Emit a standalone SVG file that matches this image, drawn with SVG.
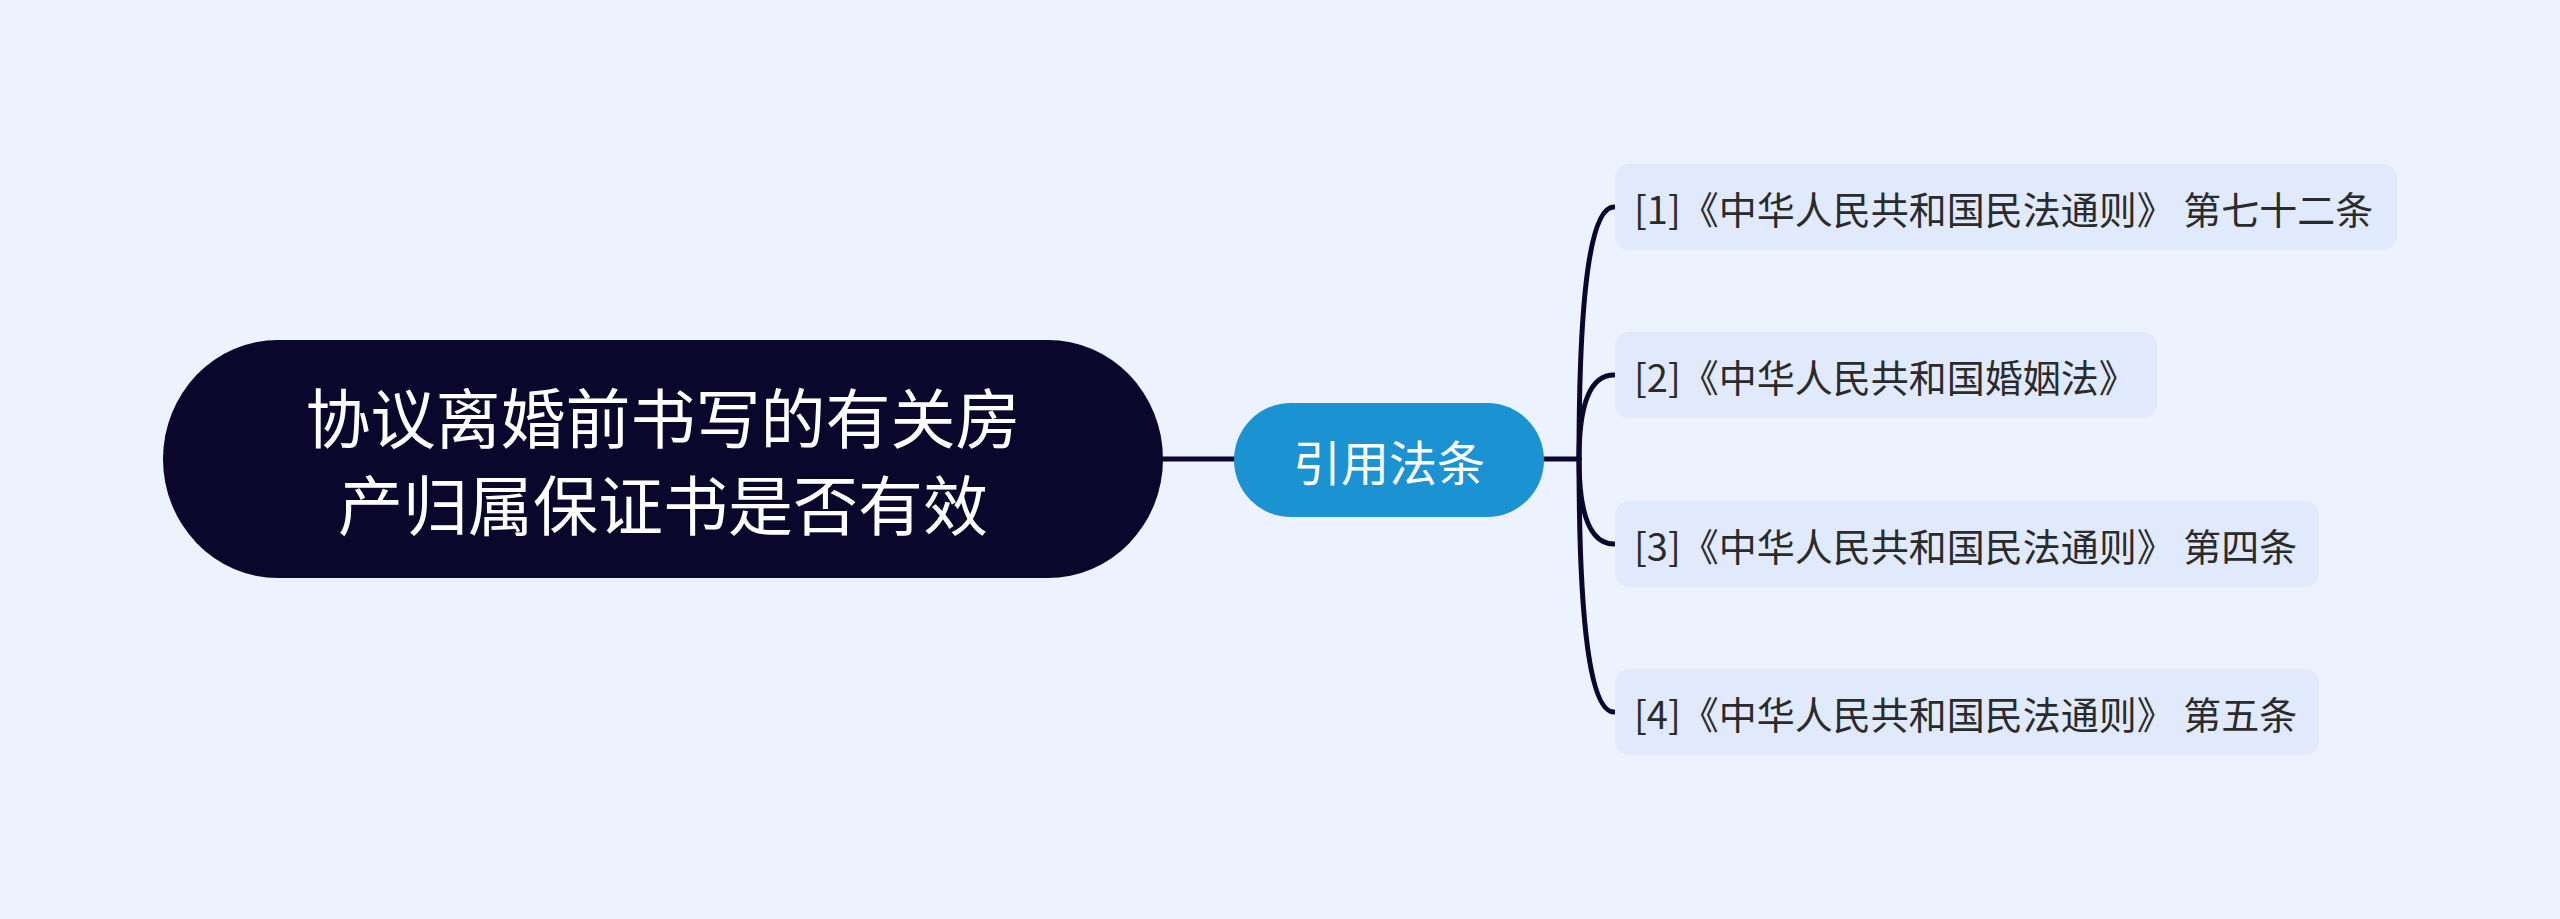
<svg xmlns="http://www.w3.org/2000/svg" width="2560" height="919" viewBox="0 0 2560 919">
<style>
.t{font-family:"Noto Sans CJK SC","Noto Sans",sans-serif;dominant-baseline:central}
.leaf rect{fill:#e0eafc}
.leaf text{fill:#2b2b2b;font-size:38px}
.conn{fill:none;stroke:#0b062b;stroke-width:5;stroke-linecap:round}
</style>
<rect x="0" y="0" width="2560" height="919" fill="#edf3fe"/>
<g id="connectors" class="conn">
<path d="M1163 459 L1234 459"/>
<path d="M1544 459 L1579 459"/>
<path d="M1579 459 Q1579 207 1614 207"/>
<path d="M1579 459 Q1579 375 1614 375"/>
<path d="M1579 459 Q1579 544 1614 544"/>
<path d="M1579 459 Q1579 712 1614 712"/>
</g>
<g id="root">
<rect x="163" y="340" width="1000" height="238" rx="115" ry="119" fill="#0b062b"/>
<text class="t" x="663" y="415" font-size="65" fill="#ffffff" text-anchor="middle">协议离婚前书写的有关房</text>
<text class="t" x="663" y="502" font-size="65" fill="#ffffff" text-anchor="middle">产归属保证书是否有效</text>
</g>
<g id="mid">
<rect x="1234" y="403" width="310" height="114" rx="57" fill="#1b92d1"/>
<text class="t" x="1389" y="460" font-size="48" fill="#ffffff" text-anchor="middle">引用法条</text>
</g>
<g id="leaf1" class="leaf">
<rect x="1615" y="164" width="782" height="86" rx="14"/>
<text class="t" x="1634" y="207">[1]《中华人民共和国民法通则》 第七十二条</text>
</g>
<g id="leaf2" class="leaf">
<rect x="1615" y="332" width="542" height="86" rx="14"/>
<text class="t" x="1634" y="375">[2]《中华人民共和国婚姻法》</text>
</g>
<g id="leaf3" class="leaf">
<rect x="1615" y="501" width="704" height="86" rx="14"/>
<text class="t" x="1634" y="544">[3]《中华人民共和国民法通则》 第四条</text>
</g>
<g id="leaf4" class="leaf">
<rect x="1615" y="669" width="704" height="86" rx="14"/>
<text class="t" x="1634" y="712">[4]《中华人民共和国民法通则》 第五条</text>
</g>
</svg>
